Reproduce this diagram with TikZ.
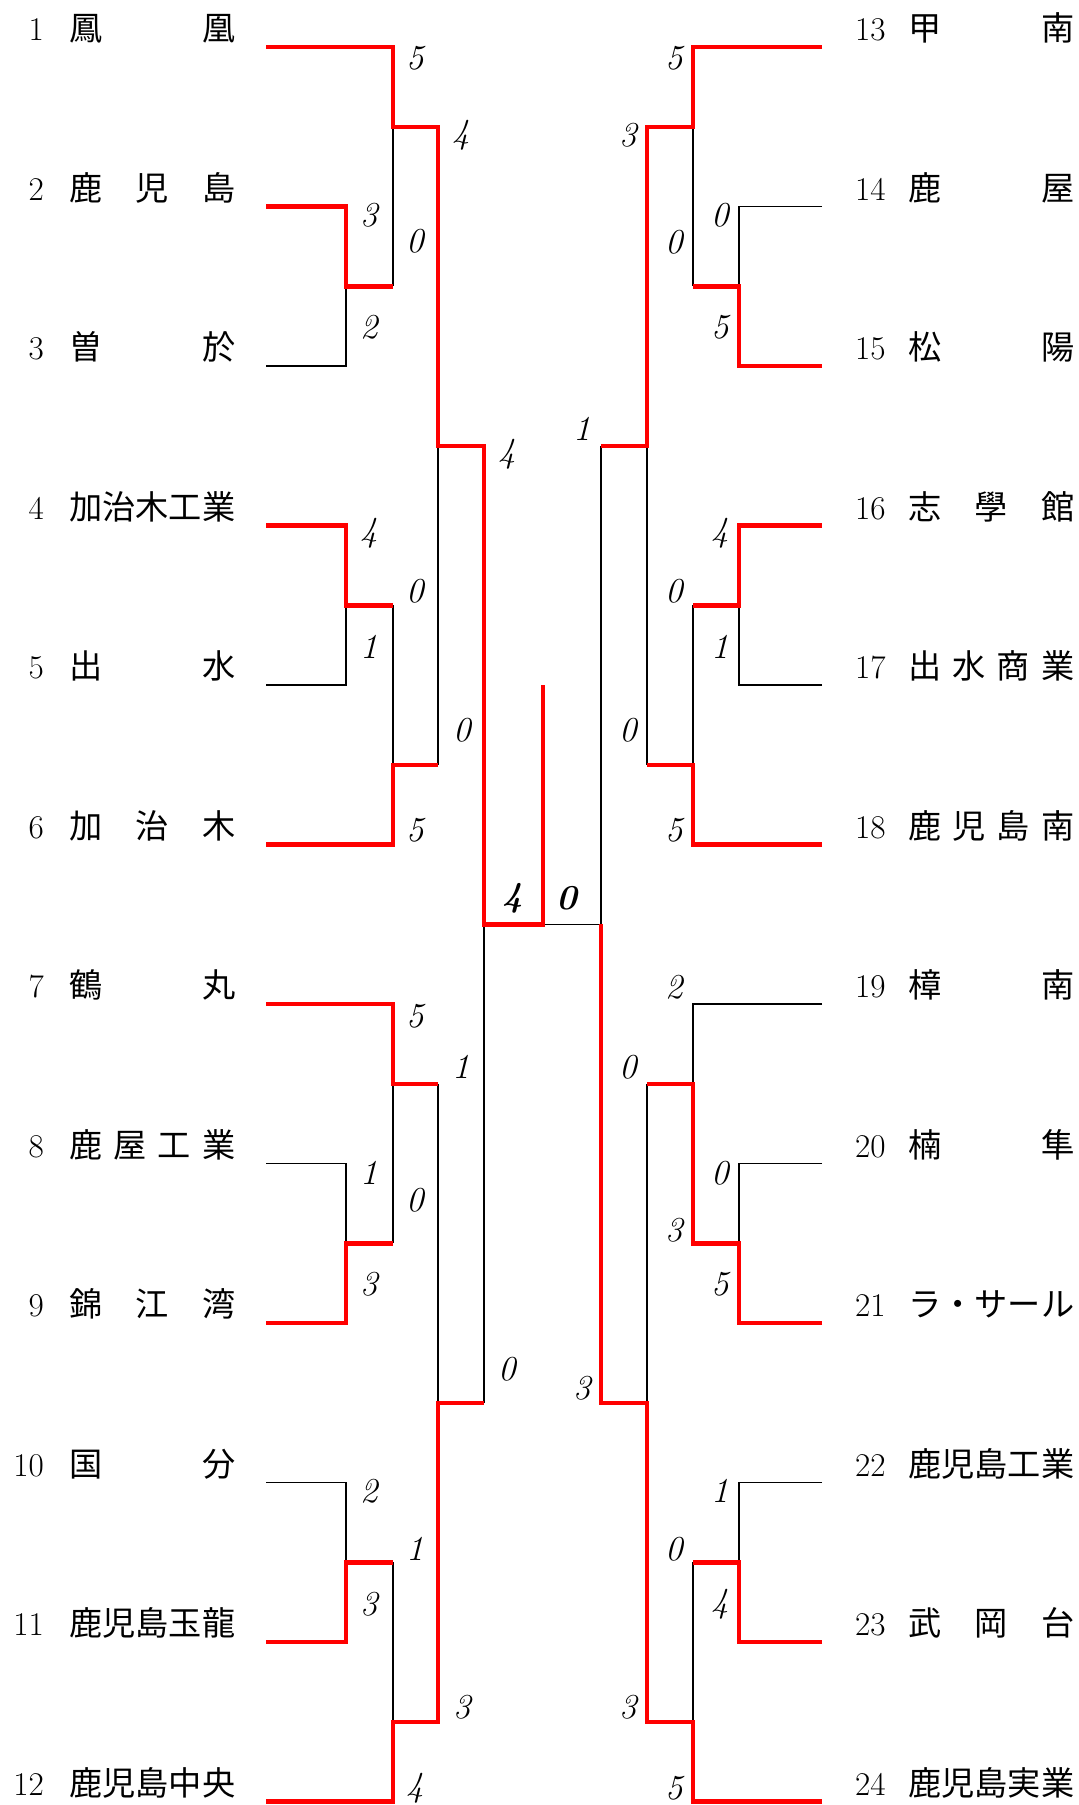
\documentclass[tikz,border=0pt]{standalone}
\usepackage{fontspec}
\newfontfamily\cjk{Noto Sans CJK JP}
\begin{document}
\begin{tikzpicture}[x=1pt,y=1pt,
  win/.style={draw=red, line width=4.5pt},
  lose/.style={draw=black, line width=1.2pt},
  numtxt/.style={inner sep=0pt, font=\fontsize{33.2}{40}\selectfont},
  nametxt/.style={inner sep=0pt, font=\fontsize{33.2}{40}\selectfont\cjk},
  score/.style={inner sep=0pt, font=\fontsize{35}{40}\selectfont\itshape},
  fscore/.style={inner sep=0pt, font=\fontsize{35}{40}\selectfont\bfseries\itshape}]
\useasboundingbox (0,0) rectangle (1079,-1805);
\begin{scope}[yshift=112.5pt, y=-159.5pt]
  % ---- team labels, left side
  \foreach \k/\nm in {1/{鳳\hfill 凰}, 2/{鹿\hfill 児\hfill 島}, 3/{曽\hfill 於},
     4/{加治木工業}, 5/{出\hfill 水}, 6/{加\hfill 治\hfill 木}, 7/{鶴\hfill 丸},
     8/{鹿\hfill 屋\hfill 工\hfill 業}, 9/{錦\hfill 江\hfill 湾}, 10/{国\hfill 分},
     11/{鹿児島玉龍}, 12/{鹿児島中央}} {
    \node[numtxt, anchor=base east, yshift=6.5pt] (n\k) at (44,\k) {\k};
    \node[nametxt, anchor=base west, yshift=6.5pt] (t\k) at (69,\k) {\makebox[166pt]{\nm}};
    \coordinate (e\k) at (266,\k);
  }
  % ---- team labels, right side
  \foreach \k/\nm in {13/{甲\hfill 南}, 14/{鹿\hfill 屋}, 15/{松\hfill 陽},
     16/{志\hfill 學\hfill 館}, 17/{出\hfill 水\hfill 商\hfill 業},
     18/{鹿\hfill 児\hfill 島\hfill 南}, 19/{樟\hfill 南}, 20/{楠\hfill 隼},
     21/{ラ・サール}, 22/{鹿児島工業}, 23/{武\hfill 岡\hfill 台}, 24/{鹿児島実業}} {
    \node[numtxt, anchor=base west, yshift=6.5pt] (n\k) at (855,\k-12) {\k};
    \node[nametxt, anchor=base west, yshift=6.5pt] (t\k) at (908,\k-12) {\makebox[166pt]{\nm}};
    \coordinate (e\k) at (822,\k-12);
  }
  % ---- losing (black) lines, left
  \draw[lose] (e3) -- (346,3) -- (346,2.5);
  \draw[lose] (393,1.5) -- (393,2.5);
  \draw[lose] (e5) -- (346,5) -- (346,4.5);
  \draw[lose] (393,4.5) -- (393,5.5);
  \draw[lose] (438,3.5) -- (438,5.5);
  \draw[lose] (484,6.5) -- (484,9.5);
  \draw[lose] (e8) -- (346,8) -- (346,8.5);
  \draw[lose] (393,7.5) -- (393,8.5);
  \draw[lose] (438,7.5) -- (438,9.5);
  \draw[lose] (e10) -- (346,10) -- (346,10.5);
  \draw[lose] (393,10.5) -- (393,11.5);
  % ---- losing (black) lines, right
  \draw[lose] (e14) -- (739,2) -- (739,2.5);
  \draw[lose] (693,1.5) -- (693,2.5);
  \draw[lose] (e17) -- (739,5) -- (739,4.5);
  \draw[lose] (693,4.5) -- (693,5.5);
  \draw[lose] (647,3.5) -- (647,5.5);
  \draw[lose] (601,3.5) -- (601,6.5) -- (543,6.5);
  \draw[lose] (e19) -- (693,7) -- (693,7.5);
  \draw[lose] (e20) -- (739,8) -- (739,8.5);
  \draw[lose] (647,7.5) -- (647,9.5);
  \draw[lose] (e22) -- (739,10) -- (739,10.5);
  \draw[lose] (693,10.5) -- (693,11.5);
  % ---- winning (red) lines, left
  \draw[win] (e1) -- (393,1) -- (393,1.5) -- (438,1.5) -- (438,3.5) -- (484,3.5)
     -- (484,6.5) -- (543,6.5) -- (543,5);
  \draw[win] (e2) -- (346,2) -- (346,2.5) -- (393,2.5);
  \draw[win] (e4) -- (346,4) -- (346,4.5) -- (393,4.5);
  \draw[win] (e6) -- (393,6) -- (393,5.5) -- (438,5.5);
  \draw[win] (e7) -- (393,7) -- (393,7.5) -- (438,7.5);
  \draw[win] (e9) -- (346,9) -- (346,8.5) -- (393,8.5);
  \draw[win] (e11) -- (346,11) -- (346,10.5) -- (393,10.5);
  \draw[win] (e12) -- (393,12) -- (393,11.5) -- (438,11.5) -- (438,9.5) -- (484,9.5);
  % ---- winning (red) lines, right
  \draw[win] (e13) -- (693,1) -- (693,1.5) -- (647,1.5) -- (647,3.5) -- (601,3.5);
  \draw[win] (e15) -- (739,3) -- (739,2.5) -- (693,2.5);
  \draw[win] (e16) -- (739,4) -- (739,4.5) -- (693,4.5);
  \draw[win] (e18) -- (693,6) -- (693,5.5) -- (647,5.5);
  \draw[win] (e21) -- (739,9) -- (739,8.5) -- (693,8.5) -- (693,7.5) -- (647,7.5);
  \draw[win] (e23) -- (739,11) -- (739,10.5) -- (693,10.5);
  \draw[win] (e24) -- (693,12) -- (693,11.5) -- (647,11.5) -- (647,9.5) -- (601,9.5) -- (601,6.5);
\end{scope}
% ---- scores
\foreach \x/\y/\t [count=\i] in {
  415/58/5, 461/135/4, 369/215/3, 415/241/0, 369/327/2, 507/454/4,
  369/533/4, 415/591/0, 369/647/1, 462/730/0, 415/830/5,
  415/1016/5, 461/1067/1, 369/1173/1, 415/1200/0, 369/1284/3, 507/1369/0,
  369/1491/2, 415/1549/1, 369/1604/3, 462/1707/3, 415/1788/4,
  674/58/5, 628/135/3, 720/215/0, 674/242/0, 720/327/5, 582/429/1,
  720/533/4, 674/591/0, 720/647/1, 628/730/0, 674/830/5,
  674/987/2, 628/1067/0, 720/1173/0, 674/1230/3, 720/1284/5, 582/1388/3,
  720/1491/1, 674/1549/0, 720/1604/4, 628/1707/3, 674/1788/5}
  \node[score] (s\i) at (\x,-\y) {\t};
\node[fscore] (f1) at (513,-898) {4};
\node[fscore] (f2) at (567,-898) {0};
\end{tikzpicture}
\end{document}
